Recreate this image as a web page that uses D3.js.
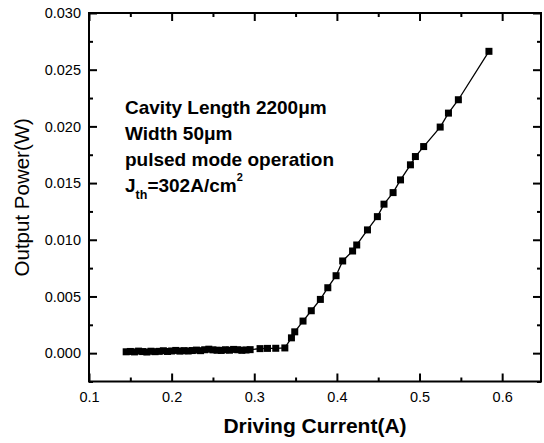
<!DOCTYPE html>
<html>
<head>
<meta charset="utf-8">
<script src="https://cdn.jsdelivr.net/npm/d3@7"></script>
<style>
  html, body { margin: 0; padding: 0; background: #fff; }
  svg { display: block; font-family: "Liberation Sans", Arial, sans-serif; }
</style>
</head>
<body>
<svg id="chart" width="544" height="443"></svg>
<script>
// Driving current (A) of each measurement
const current = [
  0.145, 0.150, 0.155, 0.160, 0.165, 0.170, 0.175, 0.180, 0.185, 0.190,
  0.195, 0.200, 0.205, 0.210, 0.215, 0.220, 0.225, 0.230, 0.235, 0.240,
  0.245, 0.250, 0.255, 0.260, 0.265, 0.270, 0.275, 0.280, 0.285, 0.290,
  0.295, 0.307, 0.316, 0.326, 0.337,
  0.345, 0.349, 0.359, 0.369, 0.380, 0.389, 0.399, 0.407, 0.419, 0.424,
  0.437, 0.449, 0.457, 0.468, 0.477, 0.489, 0.495, 0.505, 0.525, 0.535,
  0.547, 0.584
];
// Measured optical output power (W)
const power = [
  0.00012, 0.00015, 0.00011, 0.00018, 0.00014, 0.00010, 0.00017, 0.00013, 0.00016, 0.00021,
  0.00015, 0.00019, 0.00024, 0.00018, 0.00022, 0.00019, 0.00023, 0.00027, 0.00022, 0.00030,
  0.00035, 0.00029, 0.00026, 0.00024, 0.00030, 0.00026, 0.00033, 0.00030, 0.00025, 0.00028,
  0.00031, 0.00040, 0.00042, 0.00043, 0.00046,
  0.00135, 0.00188, 0.00283, 0.00374, 0.00474, 0.00577, 0.00683, 0.00813, 0.00901, 0.00954,
  0.01087, 0.01204, 0.01314, 0.01416, 0.01528, 0.01661, 0.01734, 0.01822, 0.01994, 0.02117,
  0.02235, 0.02662
];

const xMajorTicks = [0.1, 0.2, 0.3, 0.4, 0.5, 0.6];
const xMinorTicks = [0.15, 0.25, 0.35, 0.45, 0.55];
const yMajorTicks = [0.000, 0.005, 0.010, 0.015, 0.020, 0.025, 0.030];
const yMinorTicks = [-0.0025, 0.0025, 0.0075, 0.0125, 0.0175, 0.0225, 0.0275];

const annotationLines = ["Cavity Length 2200\u03bcm", "Width 50\u03bcm", "pulsed mode operation"];
const xTitle = "Driving Current(A)";
const yTitle = "Output Power(W)";

const data = current.map((c, i) => ({ x: c, y: power[i] }));

const plot = { left: 89, right: 541, top: 13, bottom: 381.5 };
const svg = d3.select("#chart");

const x = d3.scaleLinear().domain([0.1, 0.647]).range([plot.left, plot.right]);
const y = d3.scaleLinear().domain([-0.0025, 0.030]).range([plot.bottom, plot.top]);

const tickFont = "14.5px";

function styleAxis(g) {
  g.select(".domain").remove();
  g.selectAll(".tick line").attr("stroke", "#000").attr("stroke-width", 2);
  g.selectAll(".tick text").attr("fill", "#000").style("font-size", tickFont)
    .style("font-family", "'Liberation Sans', Arial, sans-serif");
}

// bottom axis (inward ticks)
svg.append("g").attr("transform", `translate(0,${plot.bottom})`)
  .call(d3.axisBottom(x).tickValues(xMajorTicks).tickSize(-8).tickPadding(10.5).tickFormat(d3.format(".1f")))
  .call(styleAxis);
svg.append("g").attr("transform", `translate(0,${plot.bottom})`)
  .call(d3.axisBottom(x).tickValues(xMinorTicks).tickSize(-4).tickFormat(""))
  .call(styleAxis);
// top axis
svg.append("g").attr("transform", `translate(0,${plot.top})`)
  .call(d3.axisTop(x).tickValues(xMajorTicks).tickSize(-8).tickFormat(""))
  .call(styleAxis);
svg.append("g").attr("transform", `translate(0,${plot.top})`)
  .call(d3.axisTop(x).tickValues(xMinorTicks).tickSize(-4).tickFormat(""))
  .call(styleAxis);
// left axis
svg.append("g").attr("transform", `translate(${plot.left},0)`)
  .call(d3.axisLeft(y).tickValues(yMajorTicks).tickSize(-8).tickPadding(8).tickFormat(d3.format(".3f")))
  .call(styleAxis);
svg.append("g").attr("transform", `translate(${plot.left},0)`)
  .call(d3.axisLeft(y).tickValues(yMinorTicks).tickSize(-4).tickFormat(""))
  .call(styleAxis);
// right axis
svg.append("g").attr("transform", `translate(${plot.right},0)`)
  .call(d3.axisRight(y).tickValues(yMajorTicks).tickSize(-8).tickFormat(""))
  .call(styleAxis);
svg.append("g").attr("transform", `translate(${plot.right},0)`)
  .call(d3.axisRight(y).tickValues(yMinorTicks).tickSize(-4).tickFormat(""))
  .call(styleAxis);

// frame
svg.append("rect")
  .attr("x", plot.left).attr("y", plot.top)
  .attr("width", plot.right - plot.left).attr("height", plot.bottom - plot.top)
  .attr("fill", "none").attr("stroke", "#000").attr("stroke-width", 2);

// connecting line
svg.append("path")
  .datum(data)
  .attr("fill", "none").attr("stroke", "#000").attr("stroke-width", 1.3)
  .attr("d", d3.line().x(d => x(d.x)).y(d => y(d.y)));

// square markers
const ms = 7;
svg.append("g").selectAll("rect").data(data).join("rect")
  .attr("x", d => x(d.x) - ms / 2).attr("y", d => y(d.y) - ms / 2)
  .attr("width", ms).attr("height", ms).attr("fill", "#000");

// axis titles
svg.append("text")
  .attr("x", (plot.left + plot.right) / 2).attr("y", 433)
  .attr("text-anchor", "middle")
  .style("font-size", "21px").style("font-weight", "bold")
  .text(xTitle);

svg.append("text")
  .attr("transform", `translate(29,${(plot.top + plot.bottom) / 2}) rotate(-90)`)
  .attr("text-anchor", "middle")
  .style("font-size", "20.5px")
  .text(yTitle);

// annotation block
const ann = svg.append("g").style("font-size", "19px").style("font-weight", "bold");
const annX = 125;
const baselines = [113.5, 139.5, 165.5];
annotationLines.forEach((t, i) => {
  ann.append("text").attr("x", annX).attr("y", baselines[i]).text(t);
});
const jt = ann.append("text").attr("x", annX).attr("y", 192);
jt.append("tspan").text("J");
jt.append("tspan").attr("dy", 6.5).style("font-size", "12.5px").text("th");
jt.append("tspan").attr("dy", -6.5).text("=302A/cm");
jt.append("tspan").attr("dy", -11).style("font-size", "11px").text("2");
</script>
</body>
</html>
